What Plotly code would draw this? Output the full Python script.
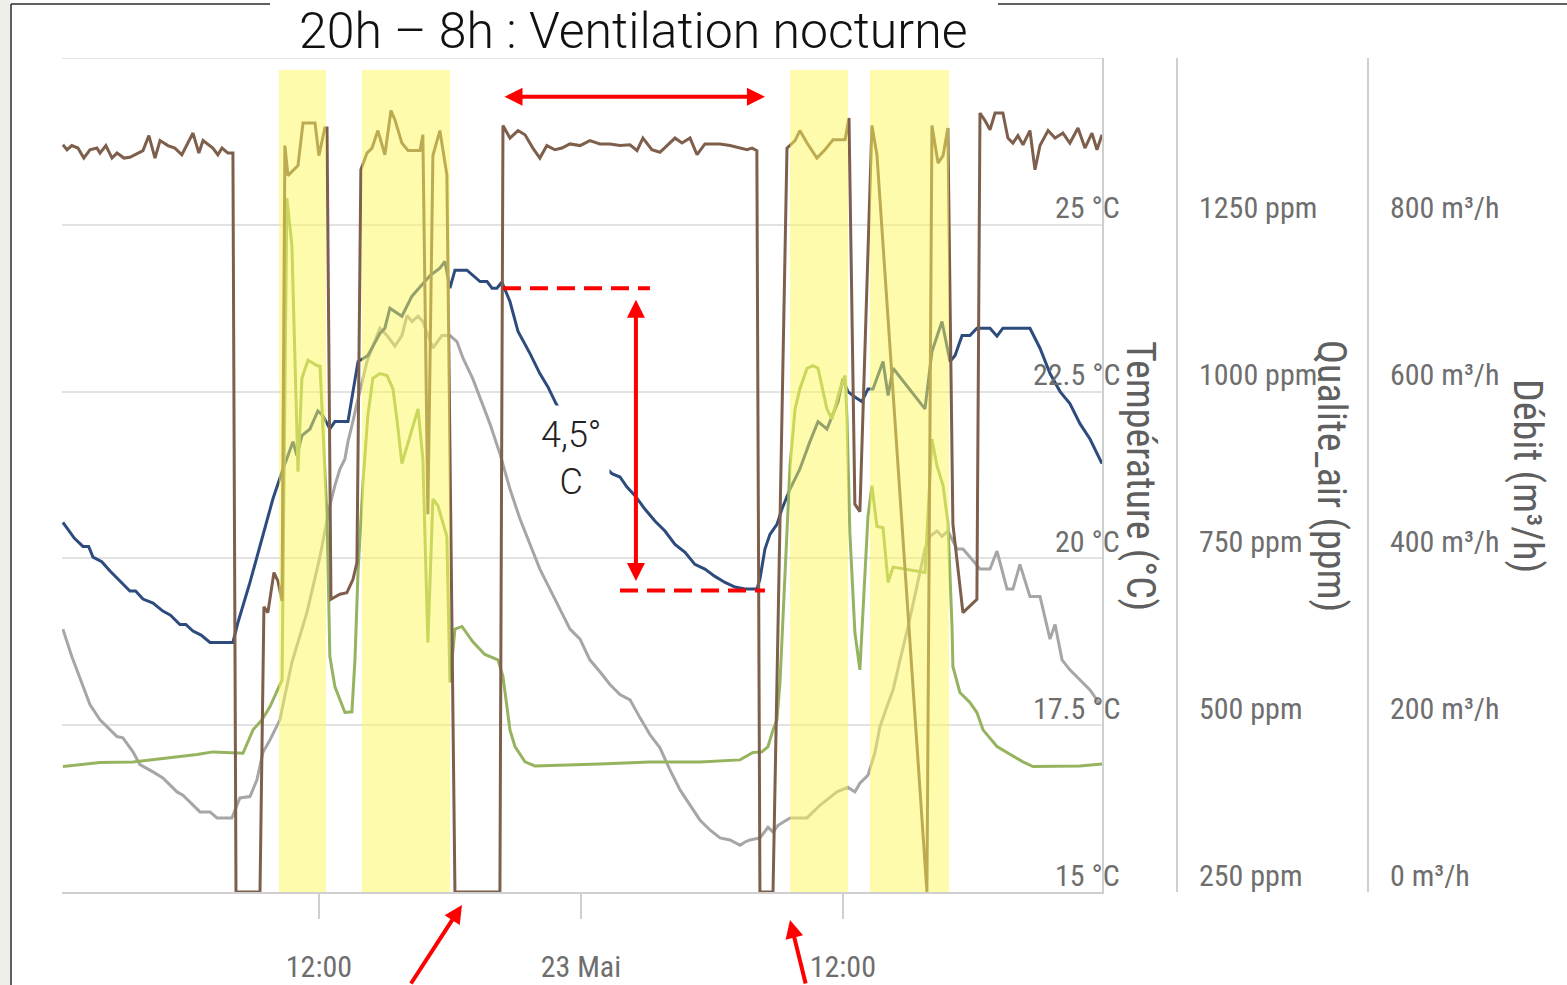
import pandas as pd
import plotly.graph_objects as go

BASE = pd.Timestamp("2020-05-22 00:00")

# heures depuis le 22 mai 00:00 -> valeurs
t_debit = [0.27, 0.46, 0.68, 0.96, 1.23, 1.51, 1.83, 1.97, 2.24, 2.52, 2.75, 3.07, 3.34, 3.94, 4.21,
           4.49, 4.72, 5.08, 5.40, 5.72, 6.23, 6.50, 6.69, 7.14, 7.37, 7.56, 7.83, 8.06, 8.20, 9.30,
           9.48, 9.66, 9.94, 10.12, 10.31, 10.44, 10.58, 10.81, 11.04, 11.27, 11.68, 11.82, 12.00,
           12.27, 12.37, 12.55, 12.96, 13.28, 13.56, 13.74, 13.92, 14.20, 14.43, 14.70, 15.02, 15.30,
           15.48, 15.80, 16.08, 16.63, 16.76, 16.99, 17.22, 17.54, 17.86, 18.23, 20.29, 20.43, 20.75,
           21.12, 21.44, 21.80, 22.12, 22.44, 22.81, 23.13, 23.50, 23.96, 24.41, 24.87, 25.33, 25.79,
           26.25, 26.57, 26.84, 27.25, 27.62, 27.99, 28.31, 28.63, 29.00, 29.32, 29.68, 30.00, 30.37,
           30.83, 31.29, 31.61, 31.84, 32.06, 32.20, 32.80, 33.44, 33.58, 33.81, 34.03, 34.36, 34.81,
           35.18, 35.55, 36.10, 36.28, 36.55, 36.78, 37.33, 37.56, 39.85, 40.08, 40.36, 40.59, 40.81,
           41.04, 41.50, 42.14, 42.28, 42.51, 42.74, 42.97, 43.33, 43.56, 43.79, 44.02, 44.25, 44.57,
           44.80, 45.03, 45.40, 45.72, 46.08, 46.40, 46.77, 47.09, 47.41, 47.64, 47.87]
debit = [896, 890, 895, 892, 880, 890, 892, 886, 895, 880, 886, 880, 881, 889, 907,
         880, 901, 895, 892, 884, 910, 886, 901, 892, 884, 892, 886, 886, 0, 0,
         342, 335, 383, 373, 349, 895, 859, 865, 871, 922, 922, 922, 883,
         916, 916, 351, 357, 359, 375, 395, 866, 886, 892, 913, 884, 937,
         926, 898, 889, 889, 908, 453, 883, 913, 860, 0, 0, 919, 904,
         913, 908, 892, 880, 895, 890, 892, 897, 895, 901, 897, 897, 895,
         896, 889, 904, 890, 887, 896, 904, 898, 904, 884, 897, 897, 897,
         895, 892, 890, 892, 889, 0, 0, 892, 895, 901, 913, 898, 880,
         890, 902, 902, 928, 465, 456, 919, 884, 0, 919, 874, 883, 916,
         441, 335, 351, 934, 925, 914, 934, 934, 904, 898, 907, 896, 913,
         866, 895, 913, 904, 910, 898, 916, 892, 910, 890, 908]

t_temp_int = [0.27, 0.80, 1.19, 1.45, 1.65, 2.05, 2.43, 2.90, 3.34, 3.60, 3.94, 4.40, 4.85, 5.20, 5.63,
              5.90, 6.23, 6.60, 7.01, 8.06, 8.29, 8.84, 9.30, 9.89,
              10.31, 10.81, 10.99, 11.22, 11.59, 11.95, 12.18, 12.50, 12.73, 13.33, 13.79, 14.24, 14.79,
              15.02, 15.25, 15.48, 15.80, 16.26, 16.76, 17.09, 17.54, 17.77, 18.00, 18.23, 18.78, 19.05,
              19.38, 19.70, 19.93, 20.15, 20.38, 20.75, 21.12, 21.67, 22.12, 22.49, 22.86, 23.32, 23.96,
              24.74, 25.42, 25.79, 26.11, 26.48, 26.93, 27.39, 27.85, 28.31, 28.77, 29.22, 29.68, 30.14,
              30.60, 31.06, 31.52, 32.06, 32.20, 32.43, 32.66, 32.98, 33.21, 33.58, 34.03, 34.49, 34.86,
              35.27, 35.78, 36.00, 36.23, 36.55, 36.87, 37.15, 37.38, 37.84, 38.07, 38.30, 39.76, 40.08,
              40.54, 40.91, 41.14, 41.46, 41.82, 42.14, 42.74, 43.06, 43.33, 44.57, 45.03, 45.49, 45.95,
              46.40, 46.86, 47.32, 47.87]
temp_int = [20.54, 20.30, 20.18, 20.18, 20.02, 19.95, 19.81, 19.66, 19.51, 19.51, 19.39, 19.33, 19.21, 19.15, 19.01,
            19.01, 18.91, 18.85, 18.74, 18.74, 19.04, 19.64, 20.18, 20.89,
            21.30, 21.75, 21.54, 21.84, 21.94, 22.21, 22.14, 21.94, 22.05, 22.05, 22.95, 23.04, 23.37,
            23.45, 23.75, 23.70, 23.63, 23.93, 24.12, 24.24, 24.35, 24.45, 24.05, 24.32, 24.32, 24.24,
            24.15, 24.15, 24.05, 24.05, 24.14, 23.85, 23.40, 23.07, 22.77, 22.57, 22.32, 22.06, 21.79,
            21.49, 21.27, 21.22, 21.07, 20.94, 20.74, 20.56, 20.41, 20.21, 20.09, 19.91, 19.84, 19.73,
            19.64, 19.57, 19.54, 19.54, 19.69, 20.14, 20.36, 20.51, 20.74, 21.04, 21.34, 21.75, 22.05,
            21.94, 22.35, 22.69, 22.50, 22.42, 22.35, 22.54, 22.54, 22.95, 22.44, 22.85, 22.24, 23.10,
            23.55, 22.95, 23.04, 23.34, 23.34, 23.45, 23.45, 23.33, 23.45, 23.45, 23.15, 22.77, 22.50,
            22.32, 22.02, 21.79, 21.42]

t_temp_2 = [0.27, 0.68, 1.51, 1.97, 2.75, 3.02, 3.48, 3.80, 4.40, 4.85, 5.50, 5.77, 6.55, 7.01, 7.33,
            8.01, 8.38, 8.84, 9.16, 9.43, 9.76, 10.21, 10.76, 11.45, 12.05, 12.50, 12.73, 12.96, 13.19,
            13.33, 13.51, 13.65, 13.79, 14.20, 14.79, 15.12, 15.48, 15.80, 16.03, 16.26, 16.54, 16.76,
            17.22, 17.63, 18.00, 18.32, 18.60, 19.05, 19.51, 19.83, 20.29, 20.75, 21.21, 21.67, 22.12,
            22.58, 23.04, 23.50, 23.96, 24.41, 24.87, 25.33, 25.79, 26.25, 26.71, 27.16, 27.62, 28.08,
            28.54, 29.00, 29.45, 29.91, 30.37, 30.83, 31.29, 31.52, 31.74, 32.20, 32.57, 32.80, 33.03,
            33.58, 34.36, 34.95, 35.41, 35.73, 36.23, 36.55, 36.78, 37.15, 37.47, 37.70, 38.02, 38.30,
            38.62, 38.99, 39.39, 39.76, 39.99, 40.31, 40.54, 40.81, 41.23, 41.50, 41.82, 42.28, 42.74,
            43.06, 43.52, 43.79, 44.11, 44.57, 45.03, 45.26, 45.49, 45.72, 46.04, 46.40, 46.86, 47.32,
            47.78]
temp_2 = [18.94, 18.53, 17.81, 17.58, 17.33, 17.31, 17.10, 16.91, 16.80, 16.71, 16.50, 16.45, 16.20, 16.20, 16.11,
          16.11, 16.41, 16.43, 16.68, 17.09, 17.28, 17.58, 18.44, 19.19, 20.03, 20.79, 21.09, 21.34, 21.49,
          21.75, 21.99, 22.20, 22.39, 22.95, 23.45, 23.34, 23.18, 23.34, 23.64, 23.55, 23.63, 23.55,
          23.15, 23.34, 23.34, 23.25, 23.00, 22.69, 22.29, 22.02, 21.57, 21.04, 20.59, 20.21, 19.84,
          19.54, 19.24, 18.94, 18.79, 18.48, 18.30, 18.11, 17.96, 17.88, 17.61, 17.36, 17.16, 16.83,
          16.53, 16.30, 16.08, 15.93, 15.81, 15.78, 15.70, 15.75, 15.78, 15.81, 15.97, 15.90, 16.00,
          16.11, 16.11, 16.30, 16.41, 16.50, 16.57, 16.50, 16.63, 16.75, 17.09, 17.48, 17.78, 18.03,
          18.48, 18.98, 19.58, 20.14, 20.33, 20.41, 20.33, 20.41, 20.14, 20.14, 20.02, 19.84, 19.84,
          20.11, 19.54, 19.54, 19.91, 19.43, 19.43, 19.09, 18.79, 19.01, 18.48, 18.33, 18.18, 18.03,
          17.81]

t_co2 = [0.27, 1.97, 3.48, 5.04, 6.41, 7.14, 8.52, 8.98, 9.39, 9.76, 10.12, 10.31, 10.53, 10.76, 11.04,
         11.22, 11.50, 11.91, 12.05, 12.37, 12.50, 12.73, 13.19, 13.51, 13.65, 13.79, 14.02, 14.24,
         14.47, 14.79, 15.12, 15.39, 15.57, 15.80, 16.54, 16.76, 16.99, 17.22, 17.45, 17.86, 18.00,
         18.23, 18.55, 19.05, 19.60, 20.20, 20.43, 20.75, 20.98, 21.44, 21.89, 23.04, 24.87, 27.16,
         29.45, 31.29, 31.88, 32.29, 32.57, 32.80, 32.98, 33.12, 33.35, 33.58, 33.81, 34.03, 34.36,
         34.63, 34.86, 35.27, 35.50, 35.87, 36.10, 36.19, 36.32, 36.55, 36.78, 37.01, 37.15, 37.33,
         37.56, 37.84, 38.07, 38.30, 39.76, 40.08, 40.31, 40.59, 40.81, 41.00, 41.04, 41.36, 41.82,
         42.14, 42.42, 43.06, 43.65, 44.25, 44.71, 45.95, 46.86, 47.87]
co2 = [438, 444, 445, 451, 456, 460, 458, 493, 508, 528, 553, 568, 1290, 1220, 880,
       1020, 1047, 1039, 1038, 813, 603, 558, 519, 520, 598, 729, 865, 964,
       1020, 1027, 1024, 1004, 959, 892, 974, 899, 624, 839, 829, 783, 564,
       644, 648, 625, 606, 598, 573, 493, 468, 445, 439, 440, 442, 445,
       445, 448, 459, 460, 468, 493, 508, 564, 738, 889, 974, 1004, 1035,
       1039, 1035, 974, 959, 1004, 1024, 959, 789, 639, 583, 738, 813, 859,
       798, 796, 714, 737, 729, 929, 889, 859, 804, 648, 588, 549, 534,
       519, 493, 468, 456, 445, 438, 439, 439, 442]

# périodes surlignées en jaune (heures)
occupation = [(10.17, 12.32), (13.97, 18.00), (33.58, 36.23), (37.24, 40.86)]

temp_ticks = [15, 17.5, 20, 22.5, 25]
ppm_ticks = [250, 500, 750, 1000, 1250]
debit_ticks = [0, 200, 400, 600, 800]
x_tick_hours = [12, 24, 36]
x_tick_text = ["12:00", "23 Mai", "12:00"]


def to_dt(hours):
    if isinstance(hours, (int, float)):
        return BASE + pd.Timedelta(hours=hours)
    return BASE + pd.to_timedelta(hours, unit="h")


# mise en page en pixels
W, H = 1567, 985
L, T, B = 62, 58, 93
PW, PH = W - L, H - T - B


def px(x):
    return (x - L) / PW


def py(y):
    return (H - B - y) / PH


BROWN = "#7d5f4b"
BLUE = "#2d4b7d"
GREY = "#a6a6a6"
GREEN = "#96b45f"
RED = "#ff0000"
AXIS_GREY = "#cfcfcf"
GRID = "#e2e2e2"
LABEL = "#6e6e6e"
NARROW = "Liberation Sans Narrow, Roboto Condensed, Arial Narrow, Roboto, sans-serif"
THIN = "Roboto Light, Roboto, sans-serif"

fig = go.Figure()
fig.add_trace(go.Scatter(x=to_dt(t_co2), y=co2, yaxis="y2", mode="lines",
                         line=dict(color=GREEN, width=3), name="Qualite_air"))
fig.add_trace(go.Scatter(x=to_dt(t_temp_2), y=temp_2, yaxis="y", mode="lines",
                         line=dict(color=GREY, width=3), name="Température 2"))
fig.add_trace(go.Scatter(x=to_dt(t_temp_int), y=temp_int, yaxis="y", mode="lines",
                         line=dict(color=BLUE, width=3), name="Température"))
fig.add_trace(go.Scatter(x=to_dt(t_debit), y=debit, yaxis="y3", mode="lines",
                         line=dict(color=BROWN, width=3), name="Débit"))

shapes = [
    # cadre de la diapositive
    dict(type="rect", xref="paper", yref="paper", x0=px(0), x1=px(10), y0=py(H), y1=py(0),
         fillcolor="#efeeea", line_width=0, layer="below"),
    dict(type="line", xref="paper", yref="paper", x0=px(11), x1=px(11), y0=py(4), y1=py(H),
         line=dict(color="#2b2b2b", width=1.5)),
    dict(type="line", xref="paper", yref="paper", x0=px(11), x1=px(W), y0=py(4), y1=py(4),
         line=dict(color="#2b2b2b", width=1.5)),
    # ligne de grille du haut (27,5 °C)
    dict(type="line", xref="x domain", yref="y", x0=0, x1=1, y0=27.5, y1=27.5,
         line=dict(color=GRID, width=2), layer="below"),
]
for a, b in occupation:
    shapes.append(dict(type="rect", xref="x", yref="paper", x0=to_dt(a), x1=to_dt(b),
                       y0=0, y1=py(70), fillcolor="#fdf75a", opacity=0.5,
                       line_width=0, layer="above"))
# lignes pointillées de l'écart de 4,5 °C
shapes.append(dict(type="line", xref="x", yref="y", x0=to_dt(20.43), x1=to_dt(27.16), y0=24.05, y1=24.05,
                   line=dict(color=RED, width=4, dash="18px,9px"), layer="above"))
shapes.append(dict(type="line", xref="x", yref="y", x0=to_dt(25.79), x1=to_dt(32.43), y0=19.52, y1=19.52,
                   line=dict(color=RED, width=4, dash="18px,9px"), layer="above"))
# bandeau blanc du titre
shapes.append(dict(type="rect", xref="paper", yref="paper", x0=px(270), x1=px(998), y0=py(57), y1=py(0),
                   fillcolor="white", line_width=0, layer="above"))

annotations = [
    dict(text="20h – 8h : Ventilation nocturne", xref="paper", yref="paper", x=px(633), y=py(31),
         xanchor="center", yanchor="middle", showarrow=False,
         font=dict(family=THIN, size=50, color="#111111", weight=300)),
    dict(text="4,5°<br>C", xref="x", yref="y", x=to_dt(23.54), y=21.5, showarrow=False,
         xanchor="center", yanchor="middle",
         bgcolor="white", borderpad=8, font=dict(family=THIN, size=36, color="#222222", weight=300)),
    # flèches
    dict(text="", xref="x", yref="y", x=to_dt(32.43), y=26.92, axref="x", ayref="y",
         ax=to_dt(20.43), ay=26.92, showarrow=True, arrowside="end+start", arrowhead=2,
         startarrowhead=2, arrowsize=0.9, startarrowsize=0.9, arrowwidth=4, arrowcolor=RED),
    dict(text="", xref="x", yref="y", x=to_dt(26.52), y=19.66, axref="x", ayref="y",
         ax=to_dt(26.52), ay=23.9, showarrow=True, arrowside="end+start", arrowhead=2,
         startarrowhead=2, arrowsize=0.9, startarrowsize=0.9, arrowwidth=4, arrowcolor=RED),
    dict(text="", xref="paper", yref="paper", x=px(462), y=py(905), ax=-52, ay=80,
         showarrow=True, arrowhead=2, arrowsize=0.9, arrowwidth=4, arrowcolor=RED),
    dict(text="", xref="paper", yref="paper", x=px(790), y=py(920), ax=16, ay=65,
         showarrow=True, arrowhead=2, arrowsize=0.9, arrowwidth=4, arrowcolor=RED),
]

tick_font = dict(family=NARROW, size=30, color=LABEL)
for v in temp_ticks:
    annotations.append(dict(text=f"{v:g} °C", xref="paper", yref="y", x=px(1122), y=v, yshift=17,
                            xanchor="right", yanchor="middle", showarrow=False, font=tick_font))
for v in ppm_ticks:
    annotations.append(dict(text=f"{v} ppm", xref="paper", yref="y2", x=px(1197), y=v, yshift=17,
                            xanchor="left", yanchor="middle", showarrow=False, font=tick_font))
for v in debit_ticks:
    annotations.append(dict(text=f"{v} m³/h", xref="paper", yref="y3", x=px(1388), y=v, yshift=17,
                            xanchor="left", yanchor="middle", showarrow=False, font=tick_font))

title_font = dict(family=NARROW, size=40, color="#5f5f5f")
for text, x in [("Température (°C)", 1141), ("Qualite_air (ppm)", 1332), ("Débit (m³/h)", 1528)]:
    annotations.append(dict(text=text, xref="paper", yref="paper", x=px(x), y=py(476), textangle=90,
                            xanchor="center", yanchor="middle", showarrow=False, font=title_font))

fig.update_layout(
    width=W, height=H,
    margin=dict(l=L, r=0, t=T, b=B),
    paper_bgcolor="white",
    plot_bgcolor="white",
    showlegend=False,
    shapes=shapes,
    annotations=annotations,
    xaxis=dict(
        domain=[0, 1040 / PW],
        range=[to_dt(0.23), to_dt(47.87)],
        showgrid=False, zeroline=False,
        showline=True, linecolor=AXIS_GREY, linewidth=2,
        ticks="outside", ticklen=25, tickwidth=2, tickcolor=AXIS_GREY,
        tickvals=to_dt(x_tick_hours), ticktext=x_tick_text,
        tickfont=dict(family=NARROW, size=30, color=LABEL),
        ticklabelstandoff=22,
    ),
    yaxis=dict(
        range=[15, 27.5], side="right", anchor="x",
        tickvals=temp_ticks, showticklabels=False, ticks="",
        showgrid=True, gridcolor=GRID, gridwidth=2, zeroline=False,
        showline=True, linecolor=AXIS_GREY, linewidth=2,
    ),
    yaxis2=dict(
        range=[250, 1500], overlaying="y", side="right", anchor="free", position=px(1177),
        showgrid=False, zeroline=False, showticklabels=False, ticks="",
        showline=True, linecolor=AXIS_GREY, linewidth=2,
    ),
    yaxis3=dict(
        range=[0, 1000], overlaying="y", side="right", anchor="free", position=px(1368),
        showgrid=False, zeroline=False, showticklabels=False, ticks="",
        showline=True, linecolor=AXIS_GREY, linewidth=2,
    ),
)

fig.write_html("out.html", config={"displayModeBar": False},
               post_script="document.body.style.margin='0';")
